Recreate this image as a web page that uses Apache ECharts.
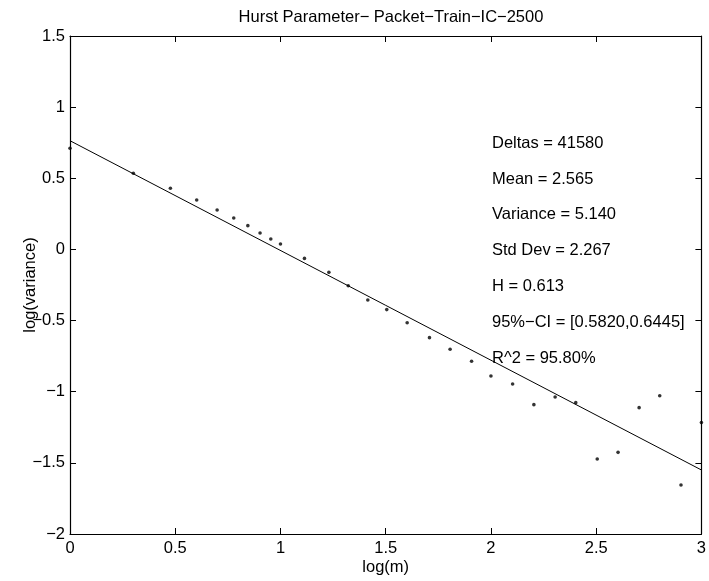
<!DOCTYPE html>
<html>
<head>
<meta charset="utf-8">
<script src="https://cdn.jsdelivr.net/npm/echarts@6/dist/echarts.min.js"></script>
<style>
html,body{margin:0;padding:0;background:#fff;}
#c{width:709px;height:581px;}
</style>
</head>
<body>
<div id="c"></div>
<script>
var logM = [0, 0.301, 0.477, 0.602, 0.699, 0.778, 0.845, 0.903, 0.954, 1.0, 1.114, 1.230, 1.322, 1.415, 1.505, 1.602, 1.708, 1.806, 1.908, 2.0, 2.103, 2.204, 2.305, 2.403, 2.505, 2.604, 2.704, 2.802, 2.903, 3.0];
var logVar = [0.711, 0.535, 0.430, 0.347, 0.277, 0.221, 0.167, 0.115, 0.073, 0.038, -0.063, -0.161, -0.255, -0.355, -0.423, -0.515, -0.620, -0.702, -0.786, -0.890, -0.946, -1.091, -1.037, -1.077, -1.473, -1.426, -1.112, -1.028, -1.656, -1.217];
var fitX = [0, 3];
var fitY = [0.764, -1.550];
var statLines = [
  'Deltas = 41580',
  'Mean = 2.565',
  'Variance = 5.140',
  'Std Dev = 2.267',
  'H = 0.613',
  '95%\u2212CI = [0.5820,0.6445]',
  'R^2 = 95.80%'
];
var titleText = 'Hurst Parameter\u2212 Packet\u2212Train\u2212IC\u22122500';

var FONT = 'Liberation Sans, Arial, Helvetica, sans-serif';
var FS = 16.5;
function fmt(v){ var s = String(v); return s.replace('-', '\u2212'); }

var chart = echarts.init(document.getElementById('c'), null, {renderer:'canvas'});
var pts = logM.map(function(x,i){ return [x, logVar[i]]; });
var fit = fitX.map(function(x,i){ return [x, fitY[i]]; });

var axisCommon = {
  axisLine:{show:true, onZero:false, lineStyle:{color:'#000', width:1.2}},
  axisTick:{show:true, inside:true, length:6, lineStyle:{color:'#000', width:1}},
  splitLine:{show:false}
};

var graphics = statLines.map(function(t,i){
  return {
    type:'text', left:492, top: 143 + i*35.85 - FS/2,
    style:{text:t, font: FS+'px '+FONT, fill:'#000'}
  };
});

chart.setOption({
  animation:false,
  backgroundColor:'#fff',
  title:{
    text:titleText, left:386, top:4, textAlign:'center',
    textStyle:{fontFamily:FONT, fontSize:FS, fontWeight:'normal', color:'#000'}
  },
  grid:{left:70, top:36, right:7, bottom:47, containLabel:false},
  xAxis:[
    Object.assign({
      type:'value', min:0, max:3, interval:0.5, position:'bottom',
      name:'log(m)', nameLocation:'middle', nameGap:25, nameMoveOverlap:false,
      nameTextStyle:{fontFamily:FONT, fontSize:FS, color:'#000'},
      axisLabel:{show:true, margin:6, color:'#000', fontFamily:FONT, fontSize:FS, formatter:fmt}
    }, axisCommon),
    Object.assign({
      type:'value', min:0, max:3, interval:0.5, position:'top',
      axisLabel:{show:false}
    }, axisCommon)
  ],
  yAxis:[
    Object.assign({
      type:'value', min:-2, max:1.5, interval:0.5, position:'left',
      name:'log(variance)', nameLocation:'middle', nameGap:31, nameMoveOverlap:false,
      nameTextStyle:{fontFamily:FONT, fontSize:FS, color:'#000'},
      axisLabel:{show:true, margin:5, color:'#000', fontFamily:FONT, fontSize:FS, formatter:fmt}
    }, axisCommon),
    Object.assign({
      type:'value', min:-2, max:1.5, interval:0.5, position:'right',
      axisLabel:{show:false}
    }, axisCommon)
  ],
  series:[
    {
      type:'line', data:fit, xAxisIndex:0, yAxisIndex:0,
      showSymbol:false, symbol:'none',
      lineStyle:{color:'#000', width:1}, z:2
    },
    {
      type:'scatter', data:pts, xAxisIndex:0, yAxisIndex:0,
      symbol:'circle', symbolSize:3.6, clip:false,
      itemStyle:{color:'#000'}, z:3
    }
  ],
  graphic: graphics
});
</script>
</body>
</html>
